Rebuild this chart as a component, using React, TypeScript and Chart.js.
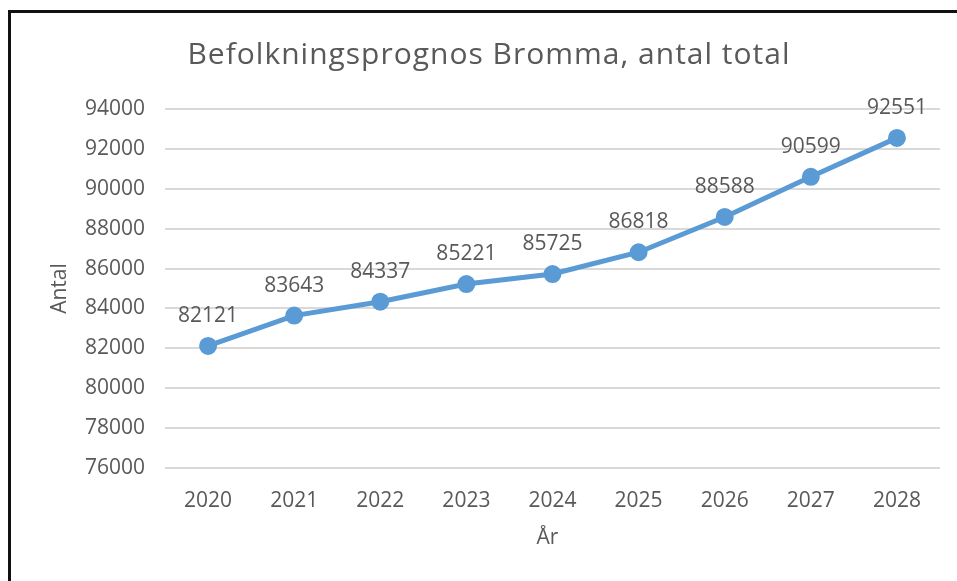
import React, { useEffect, useRef } from "react";
import { Chart, registerables } from "chart.js";

Chart.register(...registerables);

const years = ["2020", "2021", "2022", "2023", "2024", "2025", "2026", "2027", "2028"];
const population = [82121, 83643, 84337, 85221, 85725, 86818, 88588, 90599, 92551];
const yMin = 76000;
const yMax = 94000;
const yStep = 2000;
const chartTitle = "Befolkningsprognos Bromma, antal total";
const yTitle = "Antal";
const xTitle = "År";

const FONT = "'Open Sans', 'Liberation Sans', sans-serif";
const TEXT = "#595959";
const LINE = "#5B9BD5";
const GRID = "#D9D9D9";

const textPlugin = {
  id: "textPlugin",
  afterDraw(chart: any) {
    const ctx = chart.ctx;
    const area = chart.chartArea;
    ctx.save();
    ctx.fillStyle = TEXT;
    ctx.textAlign = "center";
    ctx.textBaseline = "middle";
    // title
    ctx.font = `30px ${FONT}`;
    (ctx as any).letterSpacing = "1px";
    ctx.fillText(chartTitle, 489, 55);
    (ctx as any).letterSpacing = "0px";
    // axis titles
    ctx.font = `21px ${FONT}`;
    ctx.fillText(xTitle, (area.left + area.right) / 2 - 5, 538);
    ctx.save();
    ctx.translate(60, (area.top + area.bottom) / 2);
    ctx.rotate(-Math.PI / 2);
    ctx.fillText(yTitle, 0, 0);
    ctx.restore();
    // data labels
    const meta = chart.getDatasetMeta(0);
    ctx.font = `21px ${FONT}`;
    meta.data.forEach((pt: any, i: number) => {
      ctx.fillText(String(population[i]), pt.x, pt.y - 30);
    });
    ctx.restore();
  },
};

export default function App() {
  const ref = useRef<HTMLCanvasElement>(null);
  useEffect(() => {
    document.body.style.margin = "0";
    const chart = new Chart(ref.current!, {
      type: "line",
      data: {
        labels: years,
        datasets: [
          {
            data: population,
            borderColor: LINE,
            backgroundColor: LINE,
            borderWidth: 5,
            pointRadius: 6.5,
            pointHoverRadius: 6.5,
            pointBackgroundColor: LINE,
            pointBorderColor: LINE,
            tension: 0,
          },
        ],
      },
      options: {
        animation: false,
        responsive: false,
        maintainAspectRatio: false,
        layout: { padding: { top: 109, right: 17, left: 0, bottom: 0 } },
        plugins: { legend: { display: false }, tooltip: { enabled: false }, title: { display: false } },
        scales: {
          x: {
            offset: true,
            grid: { display: false, drawTicks: false },
            border: { display: false },
            ticks: { color: TEXT, font: { family: FONT, size: 21 }, padding: 20, maxRotation: 0 },
            afterFit(s: any) {
              s.height = 113;
            },
          },
          y: {
            min: yMin,
            max: yMax,
            ticks: {
              stepSize: yStep,
              color: TEXT,
              font: { family: FONT, size: 21 },
              padding: 20,
              callback: (v: any) => String(v),
            },
            grid: { color: GRID, lineWidth: 2, drawTicks: false },
            border: { display: false },
            afterFit(s: any) {
              s.width = 165;
            },
          },
        },
      },
      plugins: [textPlugin],
    });
    return () => chart.destroy();
  }, []);
  return (
    <div style={{ position: "relative", width: 957, height: 581, background: "#fff" }}>
      <canvas ref={ref} width={957} height={581} style={{ display: "block" }} />
      <div
        style={{
          position: "absolute",
          left: 8,
          top: 10,
          right: 0,
          bottom: 0,
          borderLeft: "3px solid #111",
          borderTop: "3px solid #111",
          pointerEvents: "none",
        }}
      />
    </div>
  );
}
